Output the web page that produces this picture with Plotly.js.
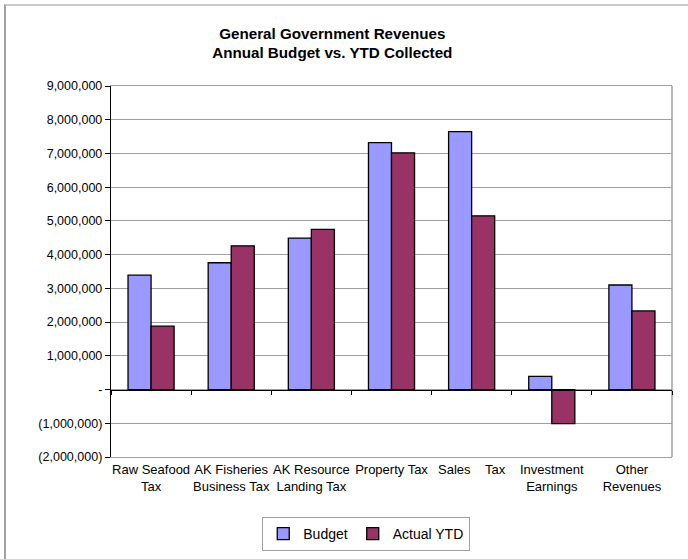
<!DOCTYPE html>
<html>
<head>
<meta charset="utf-8">
<script src="https://cdn.plot.ly/plotly-3.0.1.min.js"></script>
<style>
  html, body { margin: 0; padding: 0; background: #fff; }
  #wrap { position: relative; width: 688px; height: 559px; }
  #chart { position: absolute; left: 0; top: 0; width: 688px; height: 559px; }
  #frame { position: absolute; left: 4px; top: 4px; width: 690px; height: 560px;
           border-left: 2px solid #a0a0a0; border-top: 2px solid #c8c8c8; pointer-events: none; }
</style>
</head>
<body>
<div id="wrap">
  <div id="chart"></div>
  <div id="frame"></div>
</div>
<script>
const categories = [
  "Raw Seafood<br>Tax",
  "AK Fisheries<br>Business Tax",
  "AK Resource<br>Landing Tax",
  "Property Tax",
  "Sales\u00a0\u00a0\u00a0\u00a0Tax",
  "Investment<br>Earnings",
  "Other<br>Revenues"
];
const budget = [3390000, 3760000, 4490000, 7320000, 7650000, 390000, 3100000];
const actualYTD = [1880000, 4260000, 4750000, 7020000, 5150000, -1010000, 2330000];
const yTickVals = [9000000, 8000000, 7000000, 6000000, 5000000, 4000000, 3000000, 2000000, 1000000, 0, -1000000, -2000000];
const yTickText = ["9,000,000", "8,000,000", "7,000,000", "6,000,000", "5,000,000", "4,000,000", "3,000,000", "2,000,000", "1,000,000", "-", "(1,000,000)", "(2,000,000)"];

const font = "Liberation Sans, Arial, sans-serif";

const traces = [
  { type: "bar", name: "Budget", x: categories, y: budget,
    marker: { color: "#9999FF", line: { color: "#000000", width: 1.3 } }, hoverinfo: "y" },
  { type: "bar", name: "Actual YTD", x: categories, y: actualYTD,
    marker: { color: "#993366", line: { color: "#000000", width: 1.3 } }, hoverinfo: "y" },
  { type: "bar", name: "axis", x: categories, y: budget, xaxis: "x2", yaxis: "y",
    marker: { color: "rgba(0,0,0,0)" }, showlegend: false, hoverinfo: "skip" }
];

const layout = {
  width: 688, height: 559,
  margin: { l: 111, r: 16, t: 86, b: 102, autoexpand: false },
  paper_bgcolor: "#ffffff", plot_bgcolor: "#ffffff",
  font: { family: font, color: "#000000", size: 12 },
  title: {
    text: "<b>General Government Revenues<br>Annual Budget vs. YTD Collected</b>",
    font: { family: font, size: 15.2, color: "#000" },
    x: 0.483, xref: "container", xanchor: "center",
    y: 0.931, yref: "container", yanchor: "middle"
  },
  barmode: "group", bargap: 0.425, bargroupgap: 0,
  showlegend: true,
  legend: {
    orientation: "h", x: 0.455, xanchor: "center", y: -0.162, yanchor: "top",
    bordercolor: "#a0a0a0", borderwidth: 1, bgcolor: "#ffffff",
    font: { family: font, size: 14, color: "#000" },
    traceorder: "normal"
  },
  xaxis: {
    type: "category", showgrid: false, zeroline: false,
    showline: true, linecolor: "#a0a0a0", linewidth: 1, mirror: true,
    ticks: "", tickfont: { family: font, size: 13, color: "#000" },
    fixedrange: true
  },
  xaxis2: {
    type: "category", overlaying: "x", anchor: "free", position: 2 / 11,
    showgrid: false, zeroline: false, showline: true, linecolor: "#000", linewidth: 1.2,
    ticks: "outside", tickson: "boundaries", ticklen: 4, tickcolor: "#000", tickwidth: 1,
    showticklabels: false, fixedrange: true
  },
  yaxis: {
    range: [-2000000, 9000000],
    tickvals: yTickVals, ticktext: yTickText,
    showgrid: true, gridcolor: "#a0a0a0", gridwidth: 1,
    zeroline: false,
    showline: true, linecolor: "#000000", linewidth: 1.2,
    ticks: "outside", ticklen: 5, tickcolor: "#000",
    tickfont: { family: font, size: 12.5, color: "#000" },
    fixedrange: true
  },
  shapes: [
    { type: "line", xref: "paper", yref: "paper", x0: 1, x1: 1, y0: 0, y1: 1,
      line: { color: "#a0a0a0", width: 1.5 }, layer: "below" }
  ]
};

Plotly.newPlot("chart", traces, layout, { displayModeBar: false, staticPlot: true });
</script>
</body>
</html>
